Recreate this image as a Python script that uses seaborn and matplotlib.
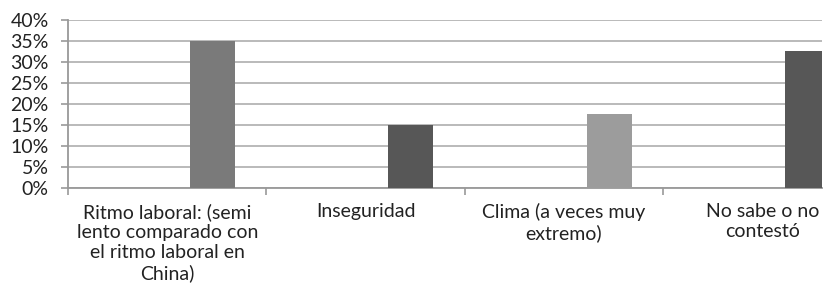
import matplotlib
matplotlib.use("Agg")
import matplotlib.pyplot as plt
import seaborn as sns
import pandas as pd
from matplotlib.ticker import PercentFormatter, FixedLocator

categorias = [
    "Ritmo laboral: (semi\nlento comparado con\nel ritmo laboral en\nChina)",
    "Inseguridad",
    "Clima (a veces muy\nextremo)",
    "No sabe o no\ncontestó",
]
valores = [0.35, 0.15, 0.175, 0.325]
colores = ["#7a7a7a", "#575757", "#9c9c9c", "#575757"]
series = ["s1", "s2", "s3"]
y_ticks = [0, 0.05, 0.10, 0.15, 0.20, 0.25, 0.30, 0.35, 0.40]

sns.set_theme(style="white")
plt.rcParams['font.family'] = ['Lato', 'DejaVu Sans']

fig = plt.figure(figsize=(8.26, 3.05), dpi=100)
ax = fig.add_axes([68 / 826, 1 - 187.7 / 305, (822 - 68) / 826, (187.7 - 20) / 305])

df = pd.DataFrame({"cat": categorias, "val": valores, "serie": ["s3"] * len(categorias)})
sns.barplot(data=df, x="cat", y="val", hue="serie", hue_order=series, order=categorias,
            palette={"s1": "#777777", "s2": "#777777", "s3": "#777777"},
            width=0.68, dodge=True, saturation=1, legend=False, errorbar=None, ax=ax, zorder=3)

bars = sorted(ax.patches, key=lambda p: p.get_x())
for p, c in zip(bars, colores):
    p.set_facecolor(c)
    p.set_edgecolor("none")

ax.yaxis.set_major_locator(FixedLocator(y_ticks))
ax.yaxis.set_major_formatter(PercentFormatter(1.0, decimals=0))
ax.yaxis.grid(True, color="#b4b4b4", lw=1.3, zorder=0)
ax.set_axisbelow(True)

ax.set_xticks(range(len(categorias)))
ax.set_xticklabels(categorias, ha="center", va="top", linespacing=1.22)
ax.set_xticks([-0.5, 0.5, 1.5, 2.5, 3.5], minor=True)
ax.tick_params(axis="x", which="major", length=0, pad=11, labelsize=14, colors="#222222")
ax.tick_params(axis="x", which="minor", length=5, width=1.2, color="#999999", direction="out", bottom=True)
ax.tick_params(axis="y", which="major", length=5, width=1.2, color="#999999", direction="out", left=True,
               labelsize=14, labelcolor="#222222", pad=9)

ax.set_ylim(0, 0.40)
ax.set_xlim(-0.5, 3.3)

for s in ["top", "right"]:
    ax.spines[s].set_visible(False)
for s in ["left", "bottom"]:
    ax.spines[s].set_color("#999999")
    ax.spines[s].set_linewidth(1.3)

ax.set_xlabel("")
ax.set_ylabel("")

fig.savefig("out.png", dpi=100)
